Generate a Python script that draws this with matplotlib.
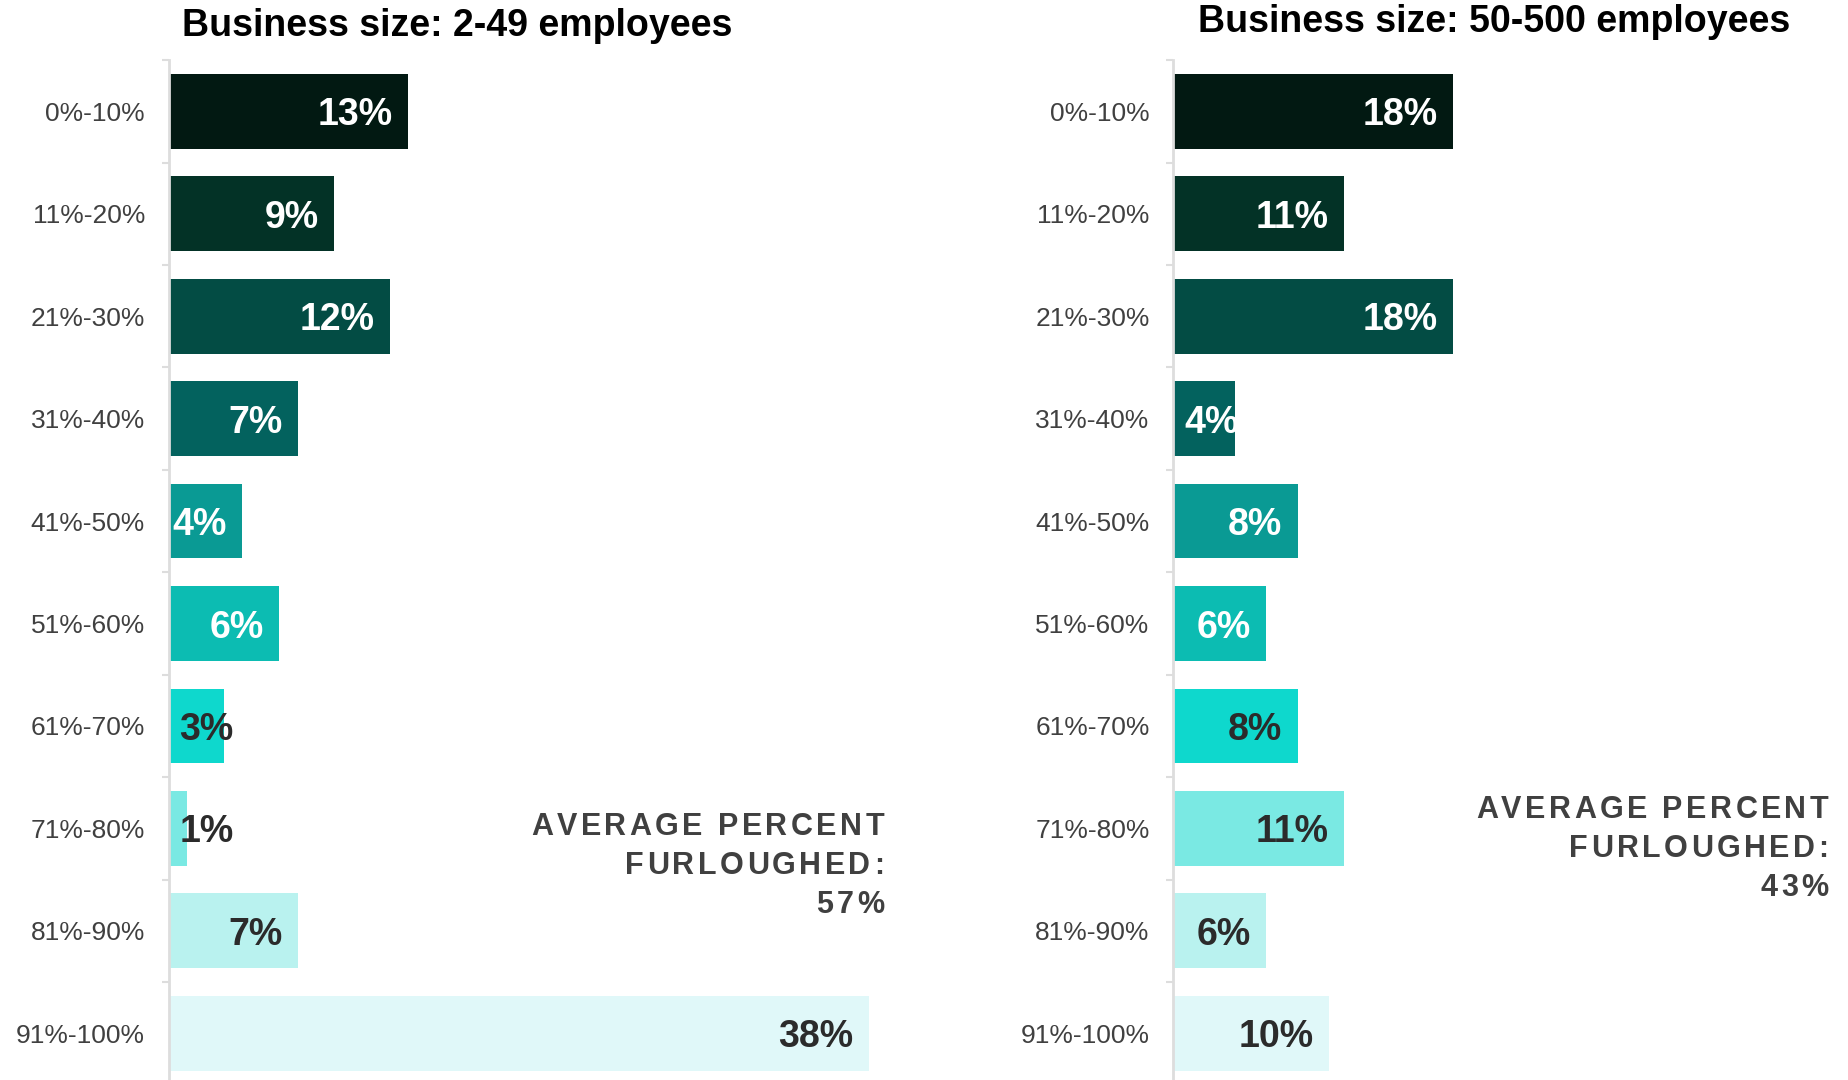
import matplotlib
matplotlib.use("Agg")
import matplotlib.pyplot as plt
import numpy as np
from matplotlib import ft2font, font_manager
from matplotlib.font_manager import FontProperties

plt.rcParams['font.family'] = ['Liberation Sans', 'DejaVu Sans']

W, H, DPI = 1849, 1080, 100

# share of staff furloughed, by business size
ranges = ['0%-10%', '11%-20%', '21%-30%', '31%-40%', '41%-50%',
          '51%-60%', '61%-70%', '71%-80%', '81%-90%', '91%-100%']
small_biz = [13, 9, 12, 7, 4, 6, 3, 1, 7, 38]
mid_biz = [18, 11, 18, 4, 8, 6, 8, 11, 6, 10]
titles = ['Business size: 2-49 employees', 'Business size: 50-500 employees']
averages = ['57%', '43%']

bar_colors = ['#021912', '#033226', '#034c44', '#03625e', '#0a9a94',
              '#0cbcb2', '#0ed8cd', '#7ae9e3', '#b9f2ef', '#e0f8f9']
text_colors = ['white'] * 6 + ['#2b2b2b'] * 4
grey = '#404040'


def glyph_font(size, weight='bold'):
    path = font_manager.findfont(FontProperties(family='Liberation Sans', weight=weight))
    f = ft2font.FT2Font(path)
    f.set_size(size, DPI)
    return f


def advances(s, size, weight='bold'):
    f = glyph_font(size, weight)
    flag = ft2font.LoadFlags.NO_HINTING if hasattr(ft2font, 'LoadFlags') else ft2font.LOAD_NO_HINTING
    return [f.load_char(ord(c), flags=flag).linearHoriAdvance / 65536 for c in s]


def spaced_text(right, baseline, s, size, gap):
    # right-aligned line with extra tracking between letters
    adv = advances(s, size)
    x = right - (sum(adv) + gap * (len(s) - 1))
    for c, a in zip(s, adv):
        fig.text(x / W, 1 - baseline / H, c, fontsize=size, fontweight='bold',
                 color=grey, ha='left', va='baseline')
        x += a + gap


fig = plt.figure(figsize=(W / DPI, H / DPI), dpi=DPI)


def panel(x0, ppu, vals, title, tx, ty):
    top, height = 60.2, 1024.2
    ax = fig.add_axes([x0 / W, 1 - (top + height) / H, 40 * ppu / W, height / H])
    y = np.arange(len(ranges))
    ax.barh(y, vals, height=0.73, color=bar_colors)
    ax.set_xlim(0, 40)
    ax.set_ylim(9.5, -0.5)
    for s in ['top', 'right', 'bottom']:
        ax.spines[s].set_visible(False)
    ax.spines['left'].set_color('#dddddd')
    ax.spines['left'].set_linewidth(2)
    ax.set_xticks([])
    ax.set_yticks(y)
    ax.set_yticklabels(ranges, fontsize=19, color=grey)
    ax.set_yticks(np.arange(-0.5, 10, 1), minor=True)
    ax.tick_params(axis='y', which='major', length=0, pad=17)
    ax.tick_params(axis='y', which='minor', length=5, width=1.5, color='#dddddd')

    pad = 15.3 / ppu
    for i, v in enumerate(vals):
        lab = f'{v}%'
        w = sum(advances(lab, 27)) / ppu
        if v - pad - w >= 0.1:
            ax.text(v - pad, i, lab, ha='right', va='center_baseline', fontsize=27,
                    fontweight='bold', color=text_colors[i])
        else:
            ax.text(10.6 / ppu, i, lab, ha='left', va='center_baseline', fontsize=27,
                    fontweight='bold', color=text_colors[i])

    fig.text(tx / W, 1 - ty / H, title, ha='center', va='center',
             fontsize=27, fontweight='bold', color='black')
    return ax


panel(168.6, 18.43, small_biz, titles[0], 457, 26)
panel(1173.3, 15.53, mid_biz, titles[1], 1494, 22.5)

# average callouts
for right, base, avg in [(884, 834.7, averages[0]), (1828.5, 817.7, averages[1])]:
    for k, line in enumerate(['AVERAGE PERCENT', 'FURLOUGHED:', avg]):
        spaced_text(right, base + 39 * k, line, 22, 3.4)

fig.savefig('out.png', dpi=DPI)
